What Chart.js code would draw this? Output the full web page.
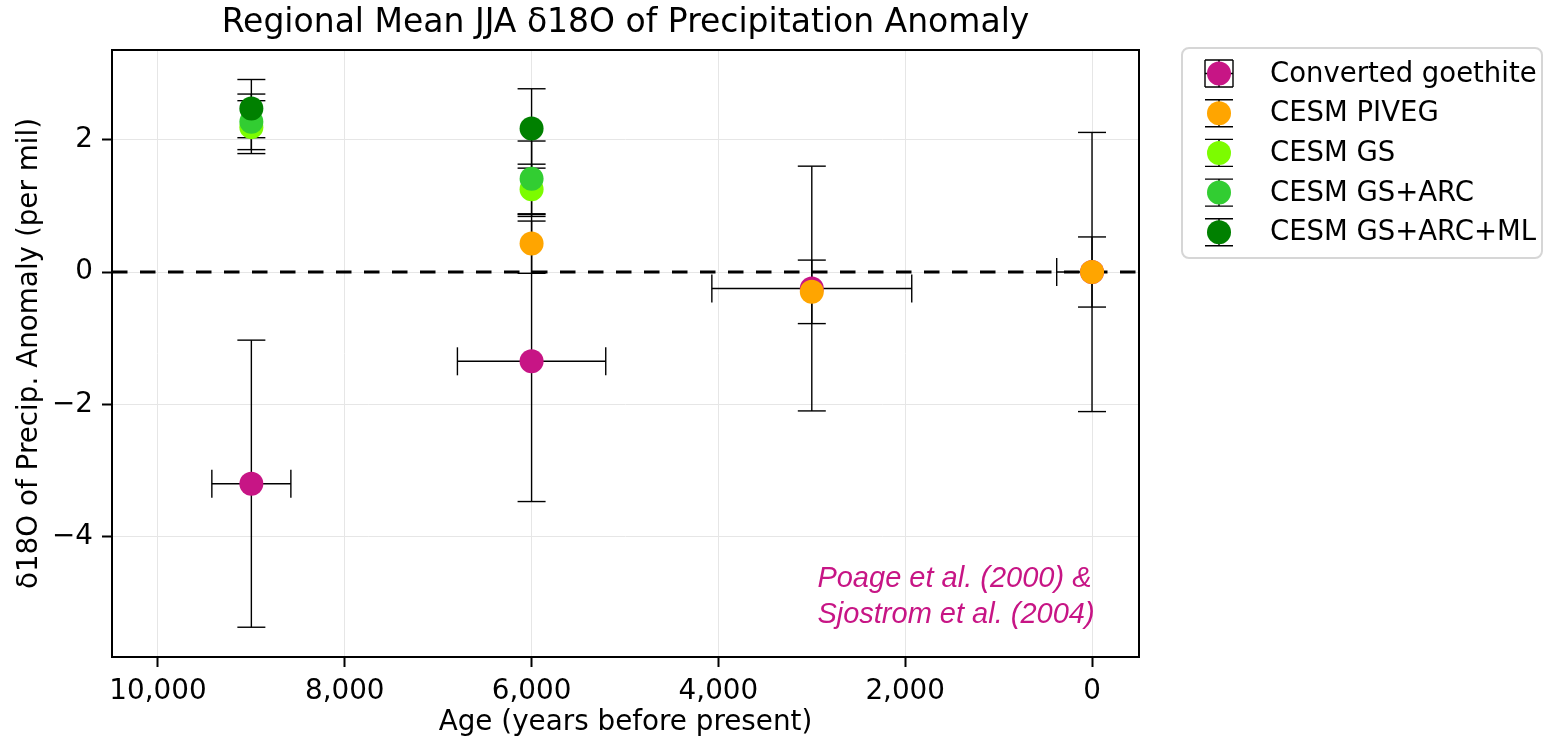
<!DOCTYPE html>
<html>
<head>
<meta charset="utf-8">
<script src="https://cdn.jsdelivr.net/npm/chart.js@4.4.1/dist/chart.umd.min.js"></script>
<style>
html, body { margin: 0; padding: 0; background: #fff; }
#wrap { width: 1544px; height: 739px; position: relative; }
</style>
</head>
<body>
<div id="wrap"><canvas id="chart_d18o"></canvas></div>
<script>
// series names / colours
var seriesNames = ['Converted goethite', 'CESM PIVEG', 'CESM GS', 'CESM GS+ARC', 'CESM GS+ARC+ML'];
var seriesColors = ['#c71585', '#ffa500', '#7cfc00', '#32cd32', '#008000'];

// converted goethite (proxy)
var goethiteAge = [9000, 6000, 3000, 0];
var goethiteD18O = [-3.2, -1.35, -0.25, 0];
var goethiteErr = [2.17, 2.12, 1.85, 2.11];
var goethiteAgeErrOlder = [423, 794, 1070, 378];
var goethiteAgeErrYounger = [423, 794, 1070, 0];

// model runs
var pivegAge = [6000, 3000, 0];
var pivegD18O = [0.43, -0.30, 0];
var pivegErr = [0.45, 0.48, 0.53];

var gsAge = [9000, 6000];
var gsD18O = [2.19, 1.25];
var gsErr = [0.40, 0.38];

var gsArcAge = [9000, 6000];
var gsArcD18O = [2.27, 1.41];
var gsArcErr = [0.42, 0.57];

var gsArcMlAge = [9000, 6000];
var gsArcMlD18O = [2.47, 2.17];
var gsArcMlErr = [0.44, 0.60];

// tick labels
var xTicks = [0, 2000, 4000, 6000, 8000, 10000];
var yTicks = [-4, -2, 0, 2];

var annotationLines = ['Poage et al. (2000) &', 'Sjostrom et al. (2004)'];

function pts(ages, vals) {
    return ages.map(function (a, i) { return { x: a, y: vals[i] }; });
}

var FONT = "'DejaVu Sans', sans-serif";
var CAP = 14;

var errorBarPlugin = {
    id: 'errorBars',
    beforeDatasetsDraw: function (chart) {
        var ctx = chart.ctx, xs = chart.scales.x, ys = chart.scales.y;
        ctx.save();
        ctx.strokeStyle = '#000';
        ctx.lineWidth = 1.4;
        function seg(x1, y1, x2, y2) {
            ctx.beginPath(); ctx.moveTo(x1, y1); ctx.lineTo(x2, y2); ctx.stroke();
        }
        chart.data.datasets.forEach(function (ds) {
            ds.data.forEach(function (p, i) {
                var px = xs.getPixelForValue(p.x), py = ys.getPixelForValue(p.y);
                if (ds.yErr) {
                    var t = ys.getPixelForValue(p.y + ds.yErr[i]);
                    var b = ys.getPixelForValue(p.y - ds.yErr[i]);
                    seg(px, t, px, b);
                    seg(px - CAP, t, px + CAP, t);
                    seg(px - CAP, b, px + CAP, b);
                }
                if (ds.xErrOlder) {
                    var l = xs.getPixelForValue(p.x + ds.xErrOlder[i]);
                    var r = xs.getPixelForValue(p.x - ds.xErrYounger[i]);
                    seg(l, py, r, py);
                    if (ds.xErrOlder[i] > 0) seg(l, py - CAP, l, py + CAP);
                    if (ds.xErrYounger[i] > 0) seg(r, py - CAP, r, py + CAP);
                }
            });
        });
        // zero reference line
        var y0 = ys.getPixelForValue(0);
        ctx.lineWidth = 3.2;
        ctx.setLineDash([15.5, 12.5]);
        seg(chart.chartArea.left, y0, chart.chartArea.right, y0);
        ctx.restore();
    },
    afterDatasetsDraw: function (chart) {
        var ctx = chart.ctx, a = chart.chartArea;
        ctx.save();
        ctx.strokeStyle = '#000';
        ctx.lineWidth = 2;
        ctx.strokeRect(a.left, a.top, a.right - a.left, a.bottom - a.top);
        ctx.restore();
    },
    afterDraw: function (chart) {
        var ctx = chart.ctx, a = chart.chartArea, xs = chart.scales.x, ys = chart.scales.y;
        ctx.save();
        // annotation
        ctx.fillStyle = '#c71585';
        ctx.font = "italic 29px 'Liberation Sans', Arial, sans-serif";
        ctx.textAlign = 'left';
        ctx.textBaseline = 'alphabetic';
        var ax = xs.getPixelForValue(2940);
        ctx.fillText(annotationLines[0], ax, ys.getPixelForValue(-4.76));
        ctx.fillText(annotationLines[1], ax, ys.getPixelForValue(-5.30));

        // legend
        var bx = a.right + 43, by = 48, bw = 360, bh = 210, rad = 7;
        ctx.beginPath();
        ctx.moveTo(bx + rad, by);
        ctx.arcTo(bx + bw, by, bx + bw, by + bh, rad);
        ctx.arcTo(bx + bw, by + bh, bx, by + bh, rad);
        ctx.arcTo(bx, by + bh, bx, by, rad);
        ctx.arcTo(bx, by, bx + bw, by, rad);
        ctx.closePath();
        ctx.fillStyle = 'rgba(255,255,255,0.8)';
        ctx.fill();
        ctx.strokeStyle = '#d6d6d6';
        ctx.lineWidth = 2;
        ctx.stroke();

        ctx.font = '27.5px ' + FONT;
        ctx.textBaseline = 'middle';
        seriesNames.forEach(function (name, i) {
            var cy = by + 25.5 + i * 39.7, cx = bx + 37;
            ctx.strokeStyle = '#000';
            ctx.lineWidth = 1.4;
            ctx.beginPath();
            ctx.moveTo(cx, cy - 13.5); ctx.lineTo(cx, cy + 13.5);
            ctx.moveTo(cx - CAP, cy - 13.5); ctx.lineTo(cx + CAP, cy - 13.5);
            ctx.moveTo(cx - CAP, cy + 13.5); ctx.lineTo(cx + CAP, cy + 13.5);
            if (i === 0) {
                ctx.moveTo(cx - CAP, cy); ctx.lineTo(cx + CAP, cy);
                ctx.moveTo(cx - CAP, cy - 13.5); ctx.lineTo(cx - CAP, cy + 13.5);
                ctx.moveTo(cx + CAP, cy - 13.5); ctx.lineTo(cx + CAP, cy + 13.5);
            }
            ctx.stroke();
            ctx.beginPath();
            ctx.arc(cx, cy, 12, 0, Math.PI * 2);
            ctx.fillStyle = seriesColors[i];
            ctx.fill();
            ctx.fillStyle = '#000';
            ctx.fillText(name, bx + 88, cy + 1);
        });
        ctx.restore();
    }
};

var chart_d18o = new Chart(document.getElementById('chart_d18o'), {
    type: 'scatter',
    data: {
        datasets: [
            {
                label: seriesNames[0], data: pts(goethiteAge, goethiteD18O),
                yErr: goethiteErr, xErrOlder: goethiteAgeErrOlder, xErrYounger: goethiteAgeErrYounger,
                backgroundColor: seriesColors[0], borderWidth: 0, pointRadius: 12, order: 5
            },
            {
                label: seriesNames[1], data: pts(pivegAge, pivegD18O), yErr: pivegErr,
                backgroundColor: seriesColors[1], borderWidth: 0, pointRadius: 12, order: 4
            },
            {
                label: seriesNames[2], data: pts(gsAge, gsD18O), yErr: gsErr,
                backgroundColor: seriesColors[2], borderWidth: 0, pointRadius: 12, order: 3
            },
            {
                label: seriesNames[3], data: pts(gsArcAge, gsArcD18O), yErr: gsArcErr,
                backgroundColor: seriesColors[3], borderWidth: 0, pointRadius: 12, order: 2
            },
            {
                label: seriesNames[4], data: pts(gsArcMlAge, gsArcMlD18O), yErr: gsArcMlErr,
                backgroundColor: seriesColors[4], borderWidth: 0, pointRadius: 12, order: 1
            }
        ]
    },
    options: {
        animation: false,
        responsive: true,
        maintainAspectRatio: false,
        layout: { padding: { left: 0, right: 405, top: 0, bottom: 0 } },
        plugins: {
            legend: { display: false },
            tooltip: { enabled: false },
            title: {
                display: true,
                fullSize: false,
                text: 'Regional Mean JJA \u03b418O of Precipitation Anomaly',
                color: '#000',
                font: { family: FONT, size: 33, weight: 'normal', lineHeight: 1.2 },
                padding: { top: 4, bottom: 6.4 }
            }
        },
        scales: {
            x: {
                type: 'linear',
                reverse: true,
                min: -503,
                max: 10492,
                afterFit: function (scale) { scale.height = 82; },
                afterBuildTicks: function (scale) {
                    scale.ticks = xTicks.map(function (v) { return { value: v }; });
                },
                ticks: {
                    color: '#000',
                    padding: 8,
                    maxRotation: 0,
                    font: { family: FONT, size: 27.8 },
                    callback: function (v) { return Number(v).toLocaleString('en-US'); }
                },
                grid: { color: '#e6e6e6', lineWidth: 1, tickColor: '#000', tickLength: 10, tickWidth: 2 },
                border: { display: false },
                title: {
                    display: true,
                    text: 'Age (years before present)',
                    color: '#000',
                    font: { family: FONT, size: 27.8, lineHeight: 1.2 },
                    padding: { top: 0, bottom: 0 }
                }
            },
            y: {
                type: 'linear',
                min: -5.82,
                max: 3.356,
                afterFit: function (scale) { scale.width = 112; },
                afterBuildTicks: function (scale) {
                    scale.ticks = yTicks.map(function (v) { return { value: v }; });
                },
                ticks: {
                    color: '#000',
                    padding: 9,
                    font: { family: FONT, size: 27.8 },
                    callback: function (v) { return v < 0 ? '\u2212' + Math.abs(v) : String(v); }
                },
                grid: { color: '#e6e6e6', lineWidth: 1, tickColor: '#000', tickLength: 10, tickWidth: 2 },
                border: { display: false },
                title: {
                    display: true,
                    text: '\u03b418O of Precip. Anomaly (per mil)',
                    color: '#000',
                    font: { family: FONT, size: 27.8, lineHeight: 1.2 },
                    padding: { top: 13, bottom: 0 }
                }
            }
        }
    },
    plugins: [errorBarPlugin, {
        id: 'whiteBg',
        beforeDraw: function (chart) {
            var ctx = chart.ctx;
            ctx.save();
            ctx.globalCompositeOperation = 'destination-over';
            ctx.fillStyle = 'white';
            ctx.fillRect(0, 0, chart.width, chart.height);
            ctx.restore();
        }
    }]
});
</script>
</body>
</html>
